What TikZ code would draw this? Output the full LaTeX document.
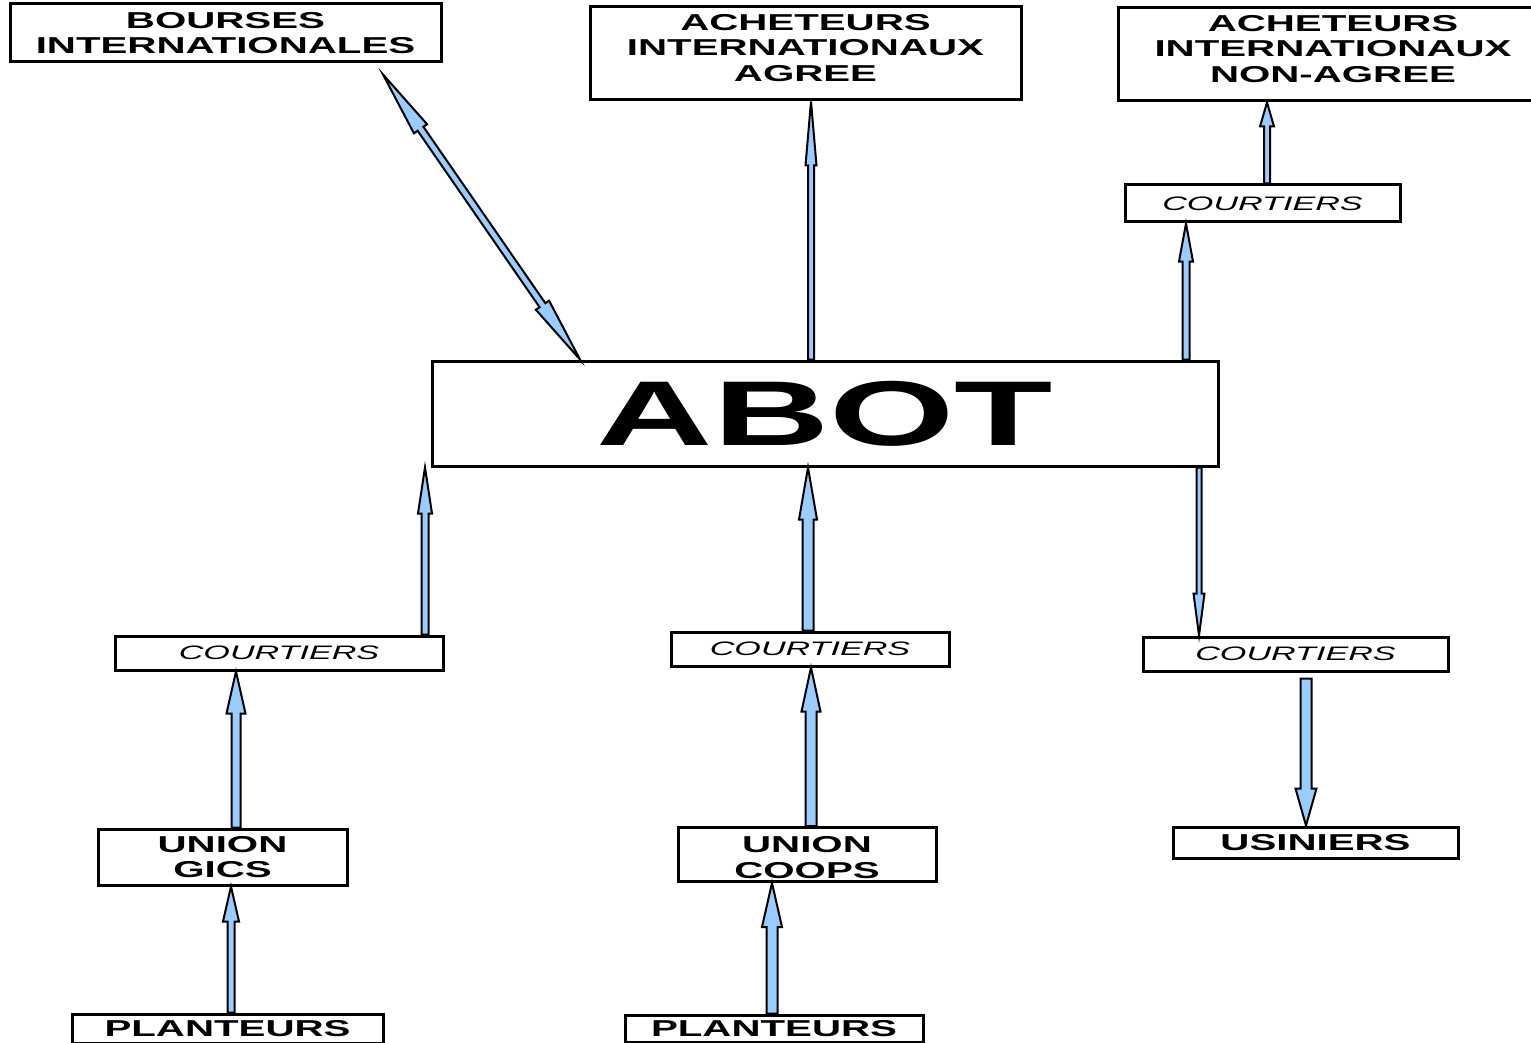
\documentclass[tikz,border=0pt]{standalone}
\usepackage{fontspec}
\usepackage{tikz}
\usepackage{xcolor}
\usetikzlibrary{calc}
\newfontfamily\labelfont[FakeStretch=1.75]{Liberation Sans}
\definecolor{flowblue}{HTML}{99CCFF}
\tikzset{>=latex}
\tikzset{
  box/.style={rectangle, draw, line width=3pt, fill=white, inner sep=0pt, align=center,
    font=\labelfont\bfseries\fontsize{23}{25.5}\selectfont},
  broker/.style={box, minimum height=34, font=\labelfont\itshape\fontsize{19.5}{21}\selectfont},
  flow/.style={draw=black, fill=flowblue, line width=2pt, line join=miter},
}
% block arrow going straight to a box: tail, target anchor, half shaft, half head, head length
\newcommand{\flowarrow}[5]{%
  \coordinate (fa-t) at #1;
  \coordinate (fa-h) at (fa-t |- #2);
  \coordinate (fa-b) at ($(fa-h)!#5!(fa-t)$);
  \filldraw[flow] ($(fa-t)!#3!90:(fa-h)$) -- ($(fa-b)!#3!90:(fa-h)$) -- ($(fa-b)!#4!90:(fa-h)$)
    -- (fa-h) -- ($(fa-b)!#4!-90:(fa-h)$) -- ($(fa-b)!#3!-90:(fa-h)$) -- ($(fa-t)!#3!-90:(fa-h)$) -- cycle;
}
% block arrow with a head at both ends
\newcommand{\bothflowarrow}[5]{%
  \coordinate (fa-t) at #1;
  \coordinate (fa-h) at #2;
  \coordinate (fa-a) at ($(fa-t)!#5!(fa-h)$);
  \coordinate (fa-b) at ($(fa-h)!#5!(fa-t)$);
  \filldraw[flow] (fa-t) -- ($(fa-a)!#4!90:(fa-h)$) -- ($(fa-a)!#3!90:(fa-h)$) -- ($(fa-b)!#3!90:(fa-h)$)
    -- ($(fa-b)!#4!90:(fa-h)$) -- (fa-h) -- ($(fa-b)!#4!-90:(fa-h)$) -- ($(fa-b)!#3!-90:(fa-h)$)
    -- ($(fa-a)!#3!-90:(fa-h)$) -- ($(fa-a)!#4!-90:(fa-h)$) -- cycle;
}

\begin{document}
\begin{tikzpicture}[x=1pt, y=-1pt]
    \useasboundingbox (0, 0) rectangle (1531, 1043);
    % top row
    \node at (225.5, 33) [box, minimum width=431, minimum height=58] (bourses) {BOURSES \\ INTERNATIONALES};
    \node at (805.5, 53.5) [box, minimum width=431, minimum height=93, text depth=12pt] (agree) {ACHETEURS \\ INTERNATIONAUX \\ AGREE};
    \node at (1333, 54.5) [box, minimum width=430, minimum height=93, text depth=12pt] (nonagree) {ACHETEURS \\ INTERNATIONAUX \\ NON-AGREE};
    \node at (1262.5, 203.5) [broker, minimum width=275, minimum height=37] (court_tr) {COURTIERS};
    % centre
    \node at (825, 413.5) [box, minimum width=786, minimum height=105,
      font=\labelfont\bfseries\fontsize{92}{96}\selectfont] (abot) {ABOT};
    % brokers below
    \node at (279, 653) [broker, minimum width=328] (court_l) {COURTIERS};
    \node at (810, 649) [broker, minimum width=278] (court_m) {COURTIERS};
    \node at (1295.5, 654) [broker, minimum width=305] (court_r) {COURTIERS};
    % bottom
    \node at (222.5, 857) [box, minimum width=249, minimum height=56] (gics) {UNION \\ GICS};
    \node at (807, 854.5) [box, minimum width=258, minimum height=54, text height=48pt] (coops) {UNION \\ COOPS};
    \node at (1315.5, 842.5) [box, minimum width=285, minimum height=31] (usiniers) {USINIERS};
    \node at (227.5, 1028.5) [box, minimum width=311, minimum height=29] (plant_l) {PLANTEURS};
    \node at (774, 1028.5) [box, minimum width=298, minimum height=27] (plant_m) {PLANTEURS};
    % flows
    \bothflowarrow{([xshift=157.5pt, yshift=-11pt]bourses.south)}{([xshift=-245pt]abot.north)}{3.5pt}{8pt}{66pt}
    \flowarrow{([xshift=-14pt]abot.north)}{agree.south}{3pt}{5.5pt}{64pt}
    \flowarrow{([xshift=361pt]abot.north)}{court_tr.south}{3.5pt}{7pt}{38pt}
    \flowarrow{([xshift=4.5pt]court_tr.north)}{nonagree.south}{3pt}{7pt}{24pt}
    \flowarrow{([xshift=146pt]court_l.north)}{abot.south}{3.5pt}{7pt}{46pt}
    \flowarrow{([xshift=-2pt]court_m.north)}{abot.south}{5.5pt}{9pt}{52pt}
    \flowarrow{([xshift=374pt]abot.south)}{court_r.north}{2.5pt}{5.5pt}{42pt}
    \flowarrow{([xshift=10.5pt, yshift=-6pt]court_r.south)}{usiniers.north}{5.5pt}{10.5pt}{37pt}
    \flowarrow{([xshift=13.5pt]gics.north)}{court_l.south}{4.5pt}{9.5pt}{42pt}
    \flowarrow{([xshift=3.5pt]plant_l.north)}{gics.south}{3.5pt}{8pt}{35pt}
    \flowarrow{([xshift=4pt]coops.north)}{court_m.south}{5.5pt}{9.5pt}{44pt}
    \flowarrow{([xshift=-2pt]plant_m.north)}{coops.south}{5.5pt}{10pt}{44pt}
\end{tikzpicture}
\end{document}
